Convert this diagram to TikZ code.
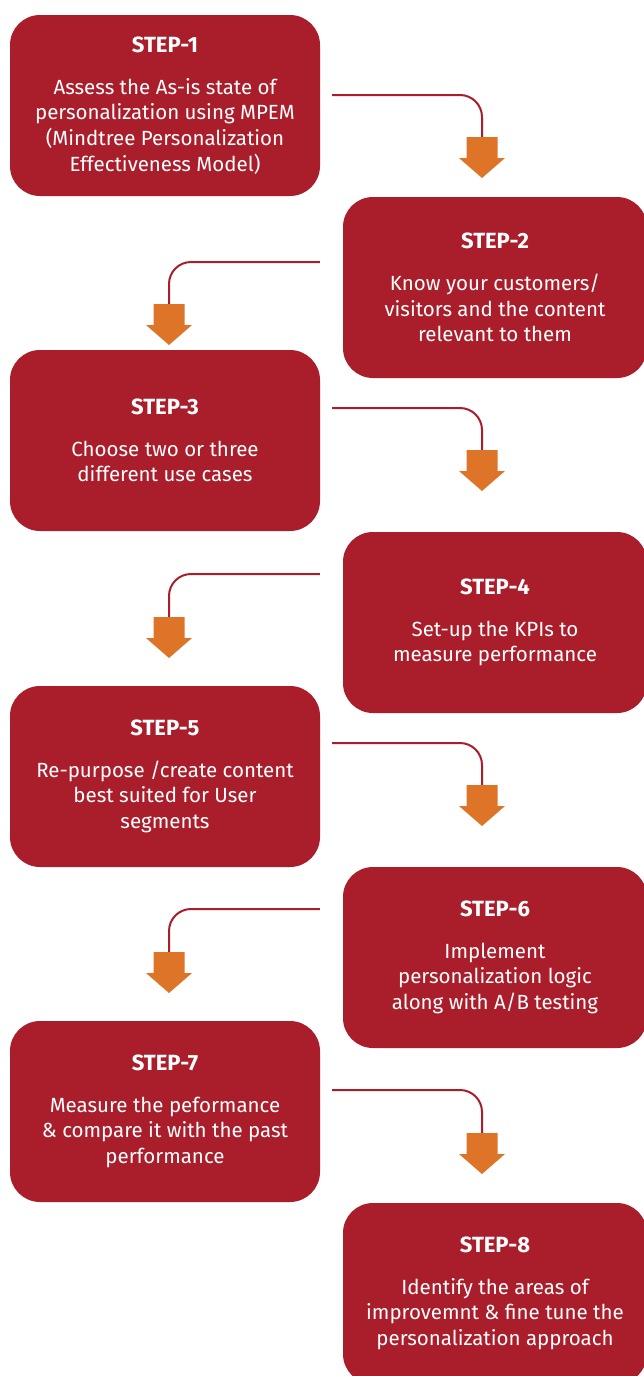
\documentclass[tikz,border=0pt]{standalone}
\usepackage{fontspec}
\setmainfont{Fira Sans}
\usetikzlibrary{calc}
\definecolor{stepred}{RGB}{170,30,44}
\definecolor{arroworange}{RGB}{222,116,40}
\newcommand{\steptitle}[1]{{\fontsize{22}{25.7}\selectfont\bfseries #1}}

\begin{document}
\begin{tikzpicture}[x=1pt,y=1pt]
	\tikzstyle{stepbox}=[fill=stepred,rounded corners=30pt,minimum height=181pt,
		text=white,align=center,inner sep=0pt,
		font=\fontsize{20.5}{25.7}\selectfont]
	\tikzstyle{leftbox}=[stepbox,minimum width=310pt]
	\tikzstyle{rightbox}=[stepbox,minimum width=304pt]
	\tikzstyle{link}=[draw=stepred,line width=2pt,rounded corners=22pt]
	\tikzset{blockarrow/.pic={
		\fill[arroworange] (-15.5,0) -- (15.5,0) -- (15.5,-21) -- (23,-21)
			-- (0,-41) -- (-23,-21) -- (-15.5,-21) -- cycle;}}
	\useasboundingbox (0,0) rectangle (644,-1376);

	% steps
	\node[leftbox] (s1) at (165,-105.5) {\steptitle{STEP-1}\\[16pt]Assess the As-is state of\\personalization using MPEM\\(Mindtree Personalization\\Effectiveness Model)};
	\node[rightbox] (s2) at (495,-287.5) {\steptitle{STEP-2}\\[16pt]Know your customers/\\visitors and the content\\relevant to them};
	\node[leftbox] (s3) at (165,-440.5) {\steptitle{STEP-3}\\[16pt]Choose two or three\\different use cases};
	\node[rightbox] (s4) at (495,-622.5) {\steptitle{STEP-4}\\[16pt]Set-up the KPIs to\\measure performance};
	\node[leftbox] (s5) at (165,-776.5) {\steptitle{STEP-5}\\[16pt]Re-purpose /create content\\best suited for User\\segments};
	\node[rightbox] (s6) at (495,-957.5) {\steptitle{STEP-6}\\[16pt]Implement\\personalization logic\\along with A/B testing};
	\node[leftbox] (s7) at (165,-1111.5) {\steptitle{STEP-7}\\[16pt]Measure the peformance\\\& compare it with the past\\performance};
	\node[rightbox] (s8) at (495,-1293.5) {\steptitle{STEP-8}\\[16pt]Identify the areas of\\improvemnt \& fine tune the\\personalization approach};

	% arrow tops
	\coordinate (t1) at (482,-137);
	\coordinate (t2) at (169,-304);
	\coordinate (t3) at (482,-450);
	\coordinate (t4) at (169,-617);
	\coordinate (t5) at (482,-785);
	\coordinate (t6) at (169,-952);
	\coordinate (t7) at (482,-1133);

	% connectors
	\draw[link] ($(s1.east)+(12,10.5)$) -| (t1);
	\draw[link] ($(s2.west)+(-23,25.5)$) -| (t2);
	\draw[link] ($(s3.east)+(12,32.5)$) -| (t3);
	\draw[link] ($(s4.west)+(-23,48.5)$) -| (t4);
	\draw[link] ($(s5.east)+(12,33.5)$) -| (t5);
	\draw[link] ($(s6.west)+(-23,48.5)$) -| (t6);
	\draw[link] ($(s7.east)+(12,21.5)$) -| (t7);

	\foreach \t in {t1,t2,t3,t4,t5,t6,t7}
		\pic at (\t) {blockarrow};
\end{tikzpicture}
\end{document}
